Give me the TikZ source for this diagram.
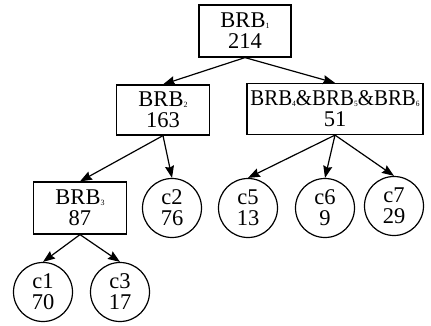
\documentclass[tikz,border=0pt]{standalone}
\usepackage{fontspec}
\setmainfont{Liberation Serif}
\usetikzlibrary{arrows.meta}
\newcommand{\rb}[1]{BRB\raisebox{-1pt}{\fontsize{8}{8}\selectfont #1}}
\tikzset{
  brb/.style={draw, rectangle, align=center, inner sep=0pt, line width=1.2pt,
    font=\fontsize{22.5}{21}\selectfont},
  leaf/.style={draw, circle, align=center, inner sep=0pt, minimum size=59pt,
    line width=1.2pt, font=\fontsize{22.5}{21}\selectfont},
  link/.style={-{Stealth[length=12pt,width=9pt,inset=1.5pt]}, line width=1.2pt},
}
\begin{document}
\begin{tikzpicture}[x=1pt, y=-1pt]
        \useasboundingbox (0,0) rectangle (431,326);
        \node[brb, minimum width=92pt, minimum height=52pt] (b1) at (245,31) {\rb{1}\\214};
        \node[brb, minimum width=93pt, minimum height=50pt] (b2) at (163,110) {\rb{2}\\163};
        \node[brb, minimum width=176pt, minimum height=51pt] (b4) at (335,109)
            {\scalebox{0.93}[1]{\rb{4}\&\rb{5}\&\rb{6}}\\51};
        \node[brb, minimum width=93pt, minimum height=52pt] (b3) at (80,208) {\rb{3}\\87};

        \node[leaf] (c2) at (172,208) {c2\\76};
        \node[leaf] (c5) at (248,208) {c5\\13};
        \node[leaf] (c6) at (325,208) {c6\\9};
        \node[leaf] (c7) at (394,206) {c7\\29};
        \node[leaf] (c1) at (43,292) {c1\\70};
        \node[leaf] (c3) at (120,292) {c3\\17};

        \draw[link] (b1.south) -- (b2.north);
        \draw[link] (b1.south) -- (b4.north);
        \draw[link] (b2.south) -- (b3.north);
        \draw[link] (b2.south) -- (c2.north);
        \draw[link] (b4.south) -- (c5.north);
        \draw[link] (b4.south) -- (c6.north);
        \draw[link] (b4.south) -- (c7.north);
        \draw[link] (b3.south) -- (c1.north);
        \draw[link] (b3.south) -- (c3.north);
\end{tikzpicture}
\end{document}
